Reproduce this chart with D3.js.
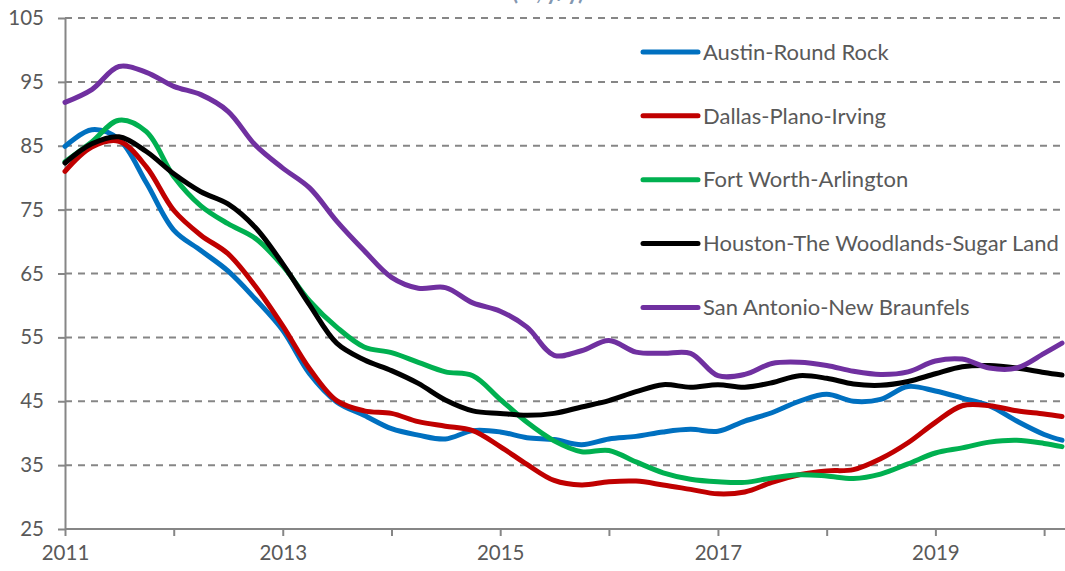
<!DOCTYPE html>
<html>
<head>
<meta charset="utf-8">
<script src="https://cdn.jsdelivr.net/npm/d3@7"></script>
<style>
  body { margin: 0; background: #fff; }
  svg { display: block; font-family: Lato, "Open Sans", sans-serif; }
</style>
</head>
<body>
<svg id="chart"></svg>
<script>
var width = 1065, height = 571;

// quarterly readings, last point is Mar 2020
var dates = ["2011-01","2011-04","2011-07","2011-10","2012-01","2012-04","2012-07","2012-10",
  "2013-01","2013-04","2013-07","2013-10","2014-01","2014-04","2014-07","2014-10",
  "2015-01","2015-04","2015-07","2015-10","2016-01","2016-04","2016-07","2016-10",
  "2017-01","2017-04","2017-07","2017-10","2018-01","2018-04","2018-07","2018-10",
  "2019-01","2019-04","2019-07","2019-10","2020-01","2020-03"];

var austin = [84.9,87.5,86.0,79.2,71.8,68.6,65.4,61.0,56.1,49.3,44.9,42.8,40.7,39.7,39.1,40.4,
  40.2,39.3,39.0,38.2,39.1,39.5,40.2,40.6,40.3,41.9,43.2,45.0,46.1,45.0,45.3,47.3,
  46.6,45.5,44.3,41.9,39.8,38.9];
var dallas = [81.0,84.8,85.7,81.7,74.9,71.0,68.1,63.0,56.8,50.1,45.1,43.5,43.1,41.8,41.1,40.4,
  37.9,35.1,32.6,31.9,32.4,32.5,31.9,31.2,30.5,30.8,32.3,33.5,34.1,34.3,36.0,38.5,
  41.7,44.3,44.3,43.5,43.0,42.6];
var fortWorth = [82.5,85.6,89.0,87.2,80.2,75.6,72.8,70.5,66.2,60.7,56.6,53.5,52.6,51.1,49.6,49.0,
  45.3,41.7,38.8,37.1,37.3,35.5,33.8,32.8,32.4,32.3,33.0,33.5,33.3,32.9,33.6,35.2,
  36.9,37.7,38.6,38.9,38.4,37.9];
var houston = [82.3,85.3,86.4,84.1,80.6,77.8,75.9,72.2,66.5,60.1,54.1,51.5,49.8,47.8,45.2,43.5,
  43.1,42.8,43.1,44.1,45.1,46.5,47.6,47.2,47.6,47.2,47.9,49.0,48.6,47.7,47.5,48.1,
  49.3,50.4,50.6,50.2,49.5,49.1];
var sanAntonio = [91.8,93.8,97.4,96.5,94.3,93.0,90.4,85.1,81.5,78.4,73.2,68.6,64.4,62.7,62.8,60.4,
  59.1,56.6,52.2,52.9,54.5,52.7,52.5,52.5,49.0,49.2,50.9,51.1,50.6,49.7,49.2,49.6,
  51.3,51.6,50.2,50.2,52.5,54.1];

var seriesNames = ["Austin-Round Rock","Dallas-Plano-Irving","Fort Worth-Arlington",
  "Houston-The Woodlands-Sugar Land","San Antonio-New Braunfels"];
var seriesColors = ["#0070C0","#C00000","#00B050","#000000","#7030A0"];
var yTicks = [25,35,45,55,65,75,85,95,105];

var series = [austin, dallas, fortWorth, houston, sanAntonio].map(function(v, i){
  return {name: seriesNames[i], color: seriesColors[i], values: v};
});

var parse = d3.timeParse("%Y-%m");
var dt = dates.map(parse);

var margin = {top: 18, right: 1, bottom: 42, left: 65};

var x = d3.scaleTime()
  .domain([parse("2011-01"), parse("2020-03")])
  .range([margin.left, 1062]);

var y = d3.scaleLinear()
  .domain([25, 105])
  .range([height - margin.bottom, margin.top]);

var svg = d3.select("#chart")
  .attr("width", width)
  .attr("height", height);

// title, mostly cut off by the top edge like in the source
svg.append("text")
  .attr("x", 548)
  .attr("y", 0)
  .attr("text-anchor", "middle")
  .attr("font-size", 22)
  .attr("font-weight", "bold")
  .attr("fill", "#8497B0")
  .text("(%, y/y)");

// dashed gridlines
svg.append("g")
  .selectAll("line")
  .data(yTicks.filter(function(d){ return d > 25; }))
  .join("line")
  .attr("x1", margin.left)
  .attr("x2", width)
  .attr("y1", function(d){ return y(d); })
  .attr("y2", function(d){ return y(d); })
  .attr("stroke", "#868686")
  .attr("stroke-width", 2)
  .attr("stroke-dasharray", "7,6");

// y axis
var yAxis = svg.append("g")
  .attr("transform", "translate(" + margin.left + ",0)")
  .call(d3.axisLeft(y).tickValues(yTicks).tickSize(7).tickPadding(14).tickSizeOuter(0));
yAxis.select(".domain").attr("stroke", "#868686").attr("stroke-width", 2);
yAxis.selectAll(".tick line").attr("stroke", "#868686").attr("stroke-width", 2);
yAxis.selectAll(".tick text").attr("font-size", 20.5).attr("fill", "#595959")
  .attr("font-family", "Lato, sans-serif");

// x axis, tick every year, label every other year
var years = d3.timeYear.range(parse("2011-01"), parse("2020-02"));
var xAxis = svg.append("g")
  .attr("transform", "translate(0," + y(25) + ")")
  .call(d3.axisBottom(x).tickValues(years).tickSize(7).tickPadding(9).tickSizeOuter(0)
    .tickFormat(function(d){ return d.getFullYear() % 2 === 1 ? d3.timeFormat("%Y")(d) : ""; }));
xAxis.select(".domain").attr("d", "M" + margin.left + ",0H" + width)
  .attr("stroke", "#868686").attr("stroke-width", 2);
xAxis.selectAll(".tick line").attr("stroke", "#868686").attr("stroke-width", 2);
xAxis.selectAll(".tick text").attr("font-size", 20.5).attr("fill", "#595959")
  .attr("font-family", "Lato, sans-serif");

// lines
var line = d3.line()
  .x(function(d, i){ return x(dt[i]); })
  .y(function(d){ return y(d); })
  .curve(d3.curveCatmullRom.alpha(0.5));

svg.append("g")
  .attr("fill", "none")
  .attr("stroke-width", 5)
  .attr("stroke-linejoin", "round")
  .attr("stroke-linecap", "round")
  .selectAll("path")
  .data(series)
  .join("path")
  .attr("stroke", function(d){ return d.color; })
  .attr("d", function(d){ return line(d.values); });

// legend, one row between each pair of gridlines
var rowStep = y(95) - y(105);
var legend = svg.append("g")
  .selectAll("g")
  .data(series)
  .join("g")
  .attr("transform", function(d, i){ return "translate(643," + (y(100) + 2 + i * rowStep) + ")"; });

legend.append("line")
  .attr("x1", 0).attr("x2", 55)
  .attr("stroke", function(d){ return d.color; })
  .attr("stroke-width", 5)
  .attr("stroke-linecap", "round");

legend.append("text")
  .attr("x", 60)
  .attr("dy", "0.35em")
  .attr("font-size", 22)
  .attr("fill", "#595959")
  .text(function(d){ return d.name; });
</script>
</body>
</html>
